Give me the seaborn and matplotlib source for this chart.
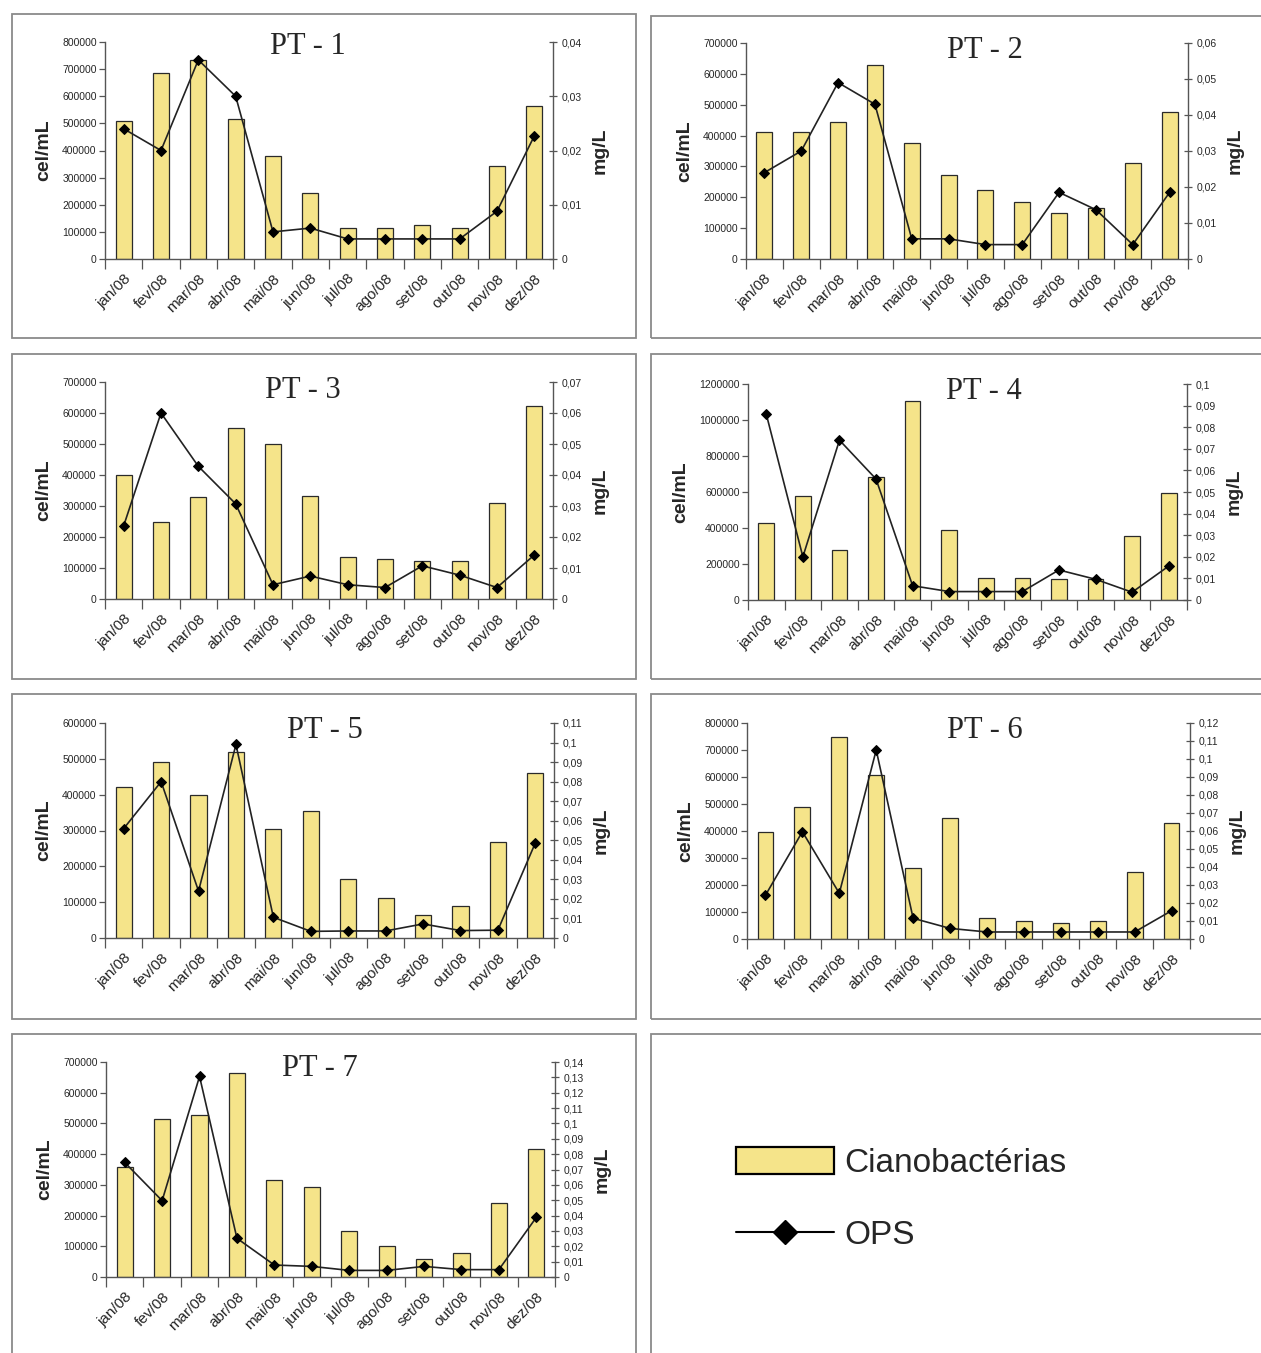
import numpy as np
import pandas as pd
import matplotlib
matplotlib.use("Agg")
import matplotlib.pyplot as plt
from matplotlib.patches import Rectangle, Patch
from matplotlib.lines import Line2D
import seaborn as sns

sns.set_style("white")
plt.rcParams["font.family"] = ["Liberation Sans", "DejaVu Sans"]

# ---- data -------------------------------------------------------------
meses = ["jan/08", "fev/08", "mar/08", "abr/08", "mai/08", "jun/08",
         "jul/08", "ago/08", "set/08", "out/08", "nov/08", "dez/08"]

# Cianobactérias (cel/mL)
cel_pt1 = [510000, 685000, 735000, 515000, 380000, 245000, 113000, 113000, 124000, 113000, 343000, 564000]
cel_pt2 = [410000, 410000, 444000, 630000, 376000, 273000, 222000, 185000, 150000, 165000, 310000, 475000]
cel_pt3 = [400000, 248000, 328000, 553000, 500000, 333000, 137000, 128000, 124000, 124000, 310000, 621000]
cel_pt4 = [426000, 578000, 276000, 683000, 1105000, 391000, 122000, 122000, 115000, 118000, 357000, 593000]
cel_pt5 = [421000, 492000, 398000, 518000, 304000, 355000, 164000, 112000, 65000, 88000, 268000, 461000]
cel_pt6 = [398000, 488000, 749000, 609000, 262000, 447000, 77000, 68000, 58000, 65000, 248000, 431000]
cel_pt7 = [358000, 516000, 526000, 665000, 315000, 293000, 150000, 100000, 59000, 78000, 241000, 418000]

# OPS (mg/L)
ops_pt1 = [0.024, 0.020, 0.0367, 0.030, 0.005, 0.0057, 0.0037, 0.0037, 0.0037, 0.0037, 0.0088, 0.0227]
ops_pt2 = [0.024, 0.030, 0.049, 0.043, 0.0056, 0.0056, 0.004, 0.004, 0.0185, 0.0137, 0.004, 0.0185]
ops_pt3 = [0.0236, 0.060, 0.0428, 0.0307, 0.0046, 0.0074, 0.0046, 0.0037, 0.0107, 0.0077, 0.0037, 0.0142]
ops_pt4 = [0.086, 0.020, 0.074, 0.056, 0.0066, 0.0039, 0.0039, 0.0039, 0.0139, 0.0096, 0.0036, 0.0157]
ops_pt5 = [0.056, 0.080, 0.024, 0.099, 0.0106, 0.0034, 0.0036, 0.0036, 0.0072, 0.0038, 0.004, 0.0486]
ops_pt6 = [0.0243, 0.0596, 0.0254, 0.105, 0.0115, 0.0059, 0.0039, 0.0039, 0.0039, 0.0039, 0.0039, 0.0157]
ops_pt7 = [0.0746, 0.0497, 0.1306, 0.0252, 0.0078, 0.0069, 0.0043, 0.0043, 0.0069, 0.0048, 0.0048, 0.0388]

titulos = ["PT - 1", "PT - 2", "PT - 3", "PT - 4", "PT - 5", "PT - 6", "PT - 7"]
cel_max = [800000, 700000, 700000, 1200000, 600000, 800000, 700000]
cel_passo = [100000, 100000, 100000, 200000, 100000, 100000, 100000]
ops_max = [0.04, 0.06, 0.07, 0.10, 0.11, 0.12, 0.14]
ops_passo = [0.01, 0.01, 0.01, 0.01, 0.01, 0.01, 0.01]

cel_series = [cel_pt1, cel_pt2, cel_pt3, cel_pt4, cel_pt5, cel_pt6, cel_pt7]
ops_series = [ops_pt1, ops_pt2, ops_pt3, ops_pt4, ops_pt5, ops_pt6, ops_pt7]

# ---- layout (pixels) --------------------------------------------------
W, H = 1261, 1353
fig = plt.figure(figsize=(W / 100, H / 100), dpi=100)
fig.patch.set_facecolor("white")

BAR = "#F5E48A"
EDGE = "#2a2a2a"
SPINE = "#555555"
BOX = "#8a8a8a"


def fig_rect(x0, y0, x1, y1):
    return [x0 / W, 1 - y1 / H, (x1 - x0) / W, (y1 - y0) / H]


# panel frames
frames = [(12, 14, 636, 338), (651, 16, 1268, 338),
          (12, 354, 636, 679), (651, 354, 1268, 679),
          (12, 694, 636, 1019), (651, 694, 1268, 1019),
          (12, 1034, 636, 1360), (651, 1034, 1268, 1360)]
for (x0, y0, x1, y1) in frames:
    fig.add_artist(Rectangle((x0 / W, 1 - y1 / H), (x1 - x0) / W, (y1 - y0) / H,
                             transform=fig.transFigure, fill=False,
                             edgecolor=BOX, linewidth=1.3))

# plot areas
areas = [(105, 42, 553, 259), (746, 43, 1188, 259),
         (105, 382, 553, 599), (748, 384, 1187, 600),
         (105, 723, 554, 938), (747, 723, 1190, 939),
         (106, 1062, 555, 1277)]
title_pos = [(308, 46), (985, 51), (303, 390), (984, 391),
             (325, 730), (985, 730), (320, 1069)]


def fmt_mg(v):
    s = f"{round(v, 3):g}"
    return s.replace(".", ",")


for i in range(7):
    ax = fig.add_axes(fig_rect(*areas[i]))
    df = pd.DataFrame({"mes": meses, "cel": cel_series[i]})
    sns.barplot(data=df, x="mes", y="cel", color=BAR, saturation=1,
                edgecolor=EDGE, linewidth=0.9, width=0.43, ax=ax)
    ax.set_xlim(-0.5, 11.5)
    ax.set_ylim(0, cel_max[i])
    yt = np.arange(0, cel_max[i] + 1, cel_passo[i])
    ax.set_yticks(yt)
    ax.set_yticklabels([f"{int(v)}" for v in yt], fontsize=7.5)
    ax.set_xticks(range(12))
    ax.set_xticklabels(meses, rotation=45, ha="right", rotation_mode="anchor",
                       fontsize=11)
    ax.set_xticks(np.arange(-0.5, 12, 1), minor=True)
    ax.tick_params(axis="x", which="major", length=0, pad=9)
    ax.tick_params(axis="x", which="minor", length=7, width=0.9,
                   direction="out", color=SPINE, bottom=True)
    ax.tick_params(axis="y", length=4, width=0.9, direction="out",
                   color=SPINE, left=True, pad=2)
    ax.set_xlabel("")
    ax.set_ylabel("cel/mL", fontsize=14, fontweight="bold", labelpad=7)
    for s in ["top", "right"]:
        ax.spines[s].set_visible(False)
    for s in ["left", "bottom"]:
        ax.spines[s].set_color(SPINE)
        ax.spines[s].set_linewidth(1.0)

    ax2 = ax.twinx()
    sns.lineplot(x=np.arange(12), y=ops_series[i], ax=ax2, color="#222222",
                 linewidth=1.2, marker="D", markersize=5.5,
                 markerfacecolor="black", markeredgecolor="black")
    ax2.set_ylim(0, ops_max[i])
    yt2 = np.arange(0, ops_max[i] + 1e-9, ops_passo[i])
    ax2.set_yticks(yt2)
    ax2.set_yticklabels([fmt_mg(v) for v in yt2], fontsize=7.5)
    ax2.tick_params(axis="y", length=6, width=0.9, direction="inout",
                    color=SPINE, right=True, pad=3)
    ax2.set_ylabel("mg/L", fontsize=14, fontweight="bold", labelpad=7)
    for s in ["top", "left", "bottom"]:
        ax2.spines[s].set_visible(False)
    ax2.spines["right"].set_color(SPINE)
    ax2.spines["right"].set_linewidth(1.0)
    ax2.grid(False)
    ax.grid(False)

    tx, ty = title_pos[i]
    fig.text(tx / W, 1 - ty / H, titulos[i], ha="center", va="center",
             fontsize=22, family=["Liberation Serif", "DejaVu Serif"])

# legend panel
handles = [Patch(facecolor=BAR, edgecolor="black", linewidth=1.6),
           Line2D([], [], color="black", linewidth=1.5, marker="D",
                  markersize=12, markerfacecolor="black")]
fig.legend(handles, ["Cianobactérias", "OPS"], loc="center left",
           bbox_to_anchor=(736 / W, 1 - 1199 / H), frameon=False,
           fontsize=24, handlelength=2.95, handleheight=0.9,
           labelspacing=1.2, handletextpad=0.3, borderpad=0,
           borderaxespad=0)

fig.savefig("out.png", dpi=100, facecolor="white")
